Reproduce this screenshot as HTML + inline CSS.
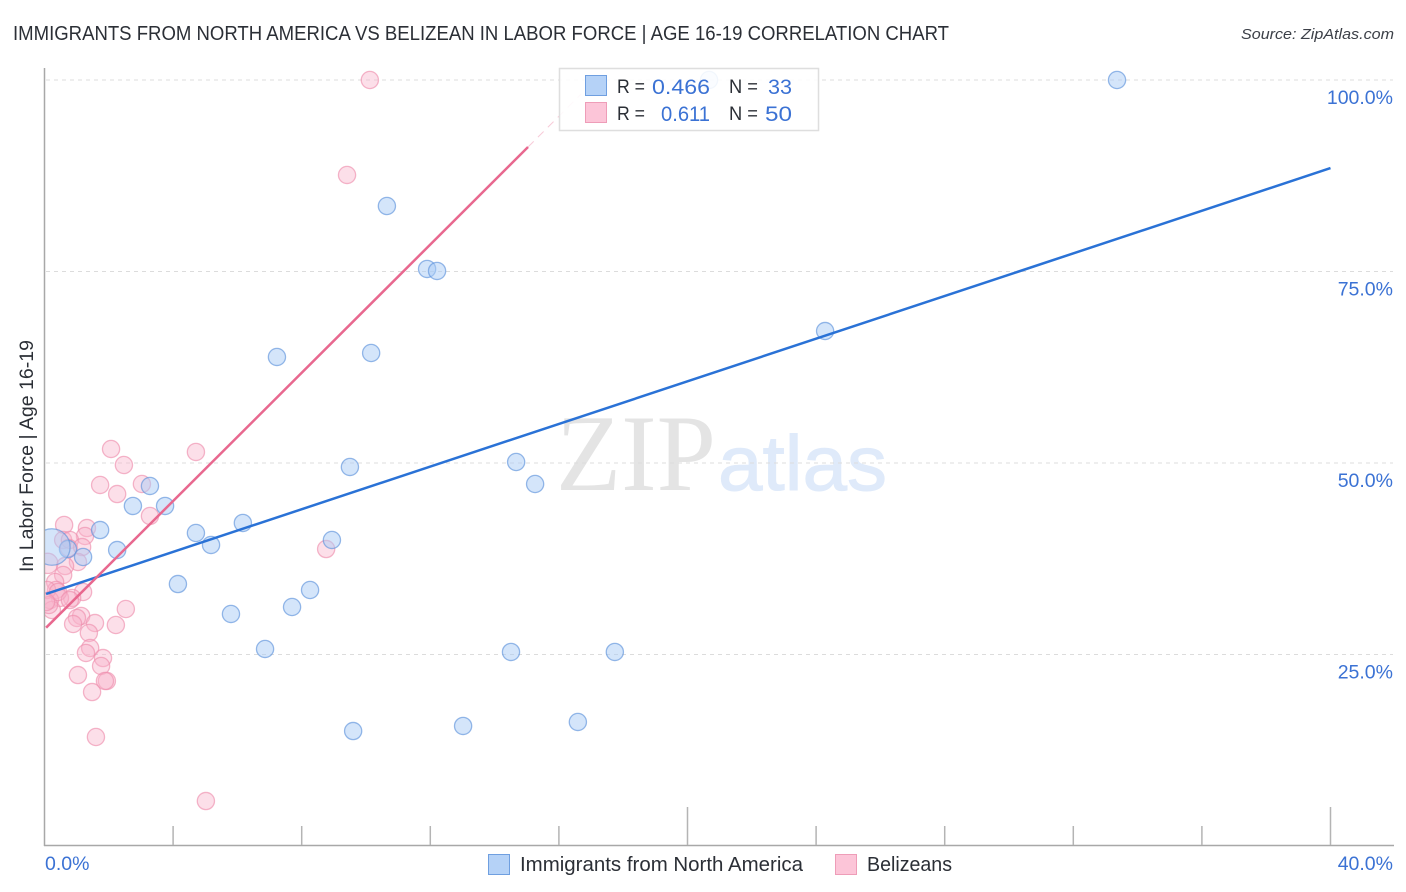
<!DOCTYPE html>
<html lang="en">
<head>
<meta charset="utf-8">
<title>Immigrants from North America vs Belizean in Labor Force | Age 16-19 Correlation Chart</title>
<style>
html,body{margin:0;padding:0;background:#fff;width:1406px;height:892px;overflow:hidden}
svg{display:block}
text{font-family:"Liberation Sans",sans-serif}
</style>
</head>
<body>
<svg id="chart" xmlns="http://www.w3.org/2000/svg" width="1406" height="892" viewBox="0 0 1406 892">
  <defs><clipPath id="plot-clip"><rect x="45" y="60" width="1349" height="785"/></clipPath></defs>
  <text x="13" y="40" font-size="20" fill="#2b2f36" textLength="936" lengthAdjust="spacingAndGlyphs">IMMIGRANTS FROM NORTH AMERICA VS BELIZEAN IN LABOR FORCE | AGE 16-19 CORRELATION CHART</text>
  <text x="1241" y="39" font-size="15" font-style="italic" fill="#3c4048" textLength="153" lengthAdjust="spacingAndGlyphs">Source: ZipAtlas.com</text>
  <g>
    <text x="556" y="490" font-size="109" fill="#e4e4e4" textLength="160" lengthAdjust="spacingAndGlyphs" style="font-family:'Liberation Serif',serif">ZIP</text>
    <text x="718" y="490" font-size="78" fill="#dfeafa" stroke="#dfeafa" stroke-width="1" textLength="169" lengthAdjust="spacingAndGlyphs">atlas</text>
  </g>
  <g id="grid"></g>
  <g id="axes"></g>
  <g id="points" clip-path="url(#plot-clip)"></g>
  <g id="trends"></g>
  <text transform="translate(33,572) rotate(-90)" font-size="19" fill="#2b2f36" textLength="232" lengthAdjust="spacingAndGlyphs">In Labor Force | Age 16-19</text>

  <g>
    <rect x="559.5" y="68.5" width="259" height="62" fill="#fff" fill-opacity="0.88" stroke="#dedede" stroke-width="1.5"/>
    <rect x="585.5" y="75.5" width="21" height="20" fill="#b5d2f7" stroke="#6f9fe0"/>
    <rect x="585.5" y="102.5" width="21" height="20" fill="#fcc5d8" stroke="#ee9db8"/>
    <text x="617" y="93" font-size="19" fill="#2b2f36" textLength="28" lengthAdjust="spacingAndGlyphs">R =</text>
    <text x="652" y="94" font-size="21" fill="#3b72d4" textLength="58" lengthAdjust="spacingAndGlyphs">0.466</text>
    <text x="729" y="93" font-size="19" fill="#2b2f36" textLength="29" lengthAdjust="spacingAndGlyphs">N =</text>
    <text x="768" y="94" font-size="21" fill="#3b72d4" textLength="24" lengthAdjust="spacingAndGlyphs">33</text>
    <text x="617" y="120" font-size="19" fill="#2b2f36" textLength="28" lengthAdjust="spacingAndGlyphs">R =</text>
    <text x="661" y="121" font-size="21" fill="#3b72d4" textLength="49" lengthAdjust="spacingAndGlyphs">0.611</text>
    <text x="729" y="120" font-size="19" fill="#2b2f36" textLength="29" lengthAdjust="spacingAndGlyphs">N =</text>
    <text x="765" y="121" font-size="21" fill="#3b72d4" textLength="27" lengthAdjust="spacingAndGlyphs">50</text>
  </g>

  <g>
    <rect x="488.5" y="854.5" width="21" height="20" fill="#b5d2f7" stroke="#6f9fe0"/>
    <text x="520" y="871" font-size="20" fill="#2b2f36" textLength="283" lengthAdjust="spacingAndGlyphs">Immigrants from North America</text>
    <rect x="835.5" y="854.5" width="21" height="20" fill="#fcc5d8" stroke="#ee9db8"/>
    <text x="867" y="871" font-size="20" fill="#2b2f36" textLength="85" lengthAdjust="spacingAndGlyphs">Belizeans</text>
  </g>
</svg>
<script>
const blueX = [33.36,20.67,10.65,11.90,12.21,7.23,10.16,24.28,9.50,14.67,15.26,3.28,3.75,2.75,1.73,4.71,6.17,5.18,2.26,0.73,1.20,8.94,4.15,5.80,7.70,8.26,6.86,14.51,17.74,9.60,13.02,16.59,0.23];
const blueY = [100,100,83.55,75.33,75.07,63.84,64.36,67.23,49.48,50.13,47.26,47.0,44.39,44.39,41.25,40.86,42.17,39.30,38.64,38.77,37.73,39.95,34.20,30.29,31.2,33.42,25.72,25.33,25.33,15.01,15.67,16.19,39.03];
const blueWeight = [1,1,1,1,1,1,1,1,1,1,1,1,1,1,1,1,1,1,1,1,1,1,1,1,1,1,1,1,1,1,1,1,4.5];
const pinkX = [10.12,9.41,2.07,4.71,2.47,1.73,3.03,2.26,3.28,8.76,0.61,1.32,1.26,0.58,0.79,0.76,1.17,1.04,0.64,0.58,0.1,0.33,0.36,1.20,0.86,0.48,0.17,0.08,0.23,0.14,2.53,2.22,1.14,1.01,0.89,1.57,1.38,1.42,1.29,1.82,1.76,1.04,1.94,1.88,1.48,1.60,5.02,0.42,0.05,0.79];
const pinkY = [100,87.6,51.83,51.44,49.74,47.13,47.26,45.95,43.08,38.77,41.91,41.51,40.47,39.95,39.95,38.9,39.03,37.08,36.55,35.38,36.9,34.47,33.42,33.16,32.38,32.38,32.11,33.42,30.81,31.46,30.94,28.85,30.03,29.77,28.98,29.11,27.81,25.85,25.2,24.54,23.5,22.32,21.54,21.54,20.1,14.23,5.87,33.16,31.85,32.11];
const pinkWeight = [1,1,1,1,1,1,1,1,1,1,1,1,1,1,1,1,1,1,1,1,1.4,1,1,1,1,1,1,1,1,1,1,1,1,1,1,1,1,1,1,1,1,1,1,1,1,1,1,1,1,1];
const blueTrendX = [0.05, 40];
const blueTrendY = [32.9, 88.5];
const pinkTrendX = [0.05, 15.04];
const pinkTrendY = [28.5, 91.25];
const pinkTrendExtX = [15.04, 16.7];
const pinkTrendExtY = [91.25, 98.2];
const yTickValues = [25, 50, 75, 100];
const yTickLabels = ["25.0%", "50.0%", "75.0%", "100.0%"];
const xTickValues = [4, 8, 12, 16, 20, 24, 28, 32, 36, 40];
const xMajorTicks = [20, 40];
const xEndLabels = ["0.0%", "40.0%"];

const NS = "http://www.w3.org/2000/svg";
function xScale(v) { return 44.5 + v * 32.15; }
function yScale(v) { return 80 + (100 - v) * 7.66; }
function rScale(w) { return 8.6 * Math.sqrt(w); }
function make(tag, attrs, parent) {
  const el = document.createElementNS(NS, tag);
  for (const k in attrs) el.setAttribute(k, attrs[k]);
  parent.appendChild(el);
  return el;
}
const grid = document.getElementById("grid");
const axes = document.getElementById("axes");
const pts = document.getElementById("points");
const trends = document.getElementById("trends");

yTickValues.forEach(function (v, i) {
  const line = make("line", {x1: 46, x2: 1393, y1: yScale(v), y2: yScale(v), stroke: "#dcdcdc", "stroke-width": 1, "stroke-dasharray": "4 4"}, grid);
  
  
  const label = make("text", {x: 1393, y: yScale(v) + 24, "font-size": 19.5, fill: "#3b72d4", "text-anchor": "end"}, axes);
  label.textContent = yTickLabels[i];
  
  
});

const yAxis = make("line", {x1: 44.5, x2: 44.5, y1: 68, y2: 846, stroke: "#a8a8a8", "stroke-width": 1.5}, axes);


const xAxis = make("line", {x1: 44, x2: 1394, y1: 845.5, y2: 845.5, stroke: "#a8a8a8", "stroke-width": 1.5}, axes);



xTickValues.forEach(function (v) {
  const top = xMajorTicks.indexOf(v) >= 0 ? 807 : 826;
  const tick = make("line", {x1: xScale(v), x2: xScale(v), y1: top, y2: 845, stroke: "#b4b4b4", "stroke-width": 1.5}, axes);
  
  
});

const xLabelLeft = make("text", {x: 45, y: 870, "font-size": 19.5, fill: "#3b72d4"}, axes);
xLabelLeft.textContent = xEndLabels[0];


const xLabelRight = make("text", {x: 1393, y: 870, "font-size": 19.5, fill: "#3b72d4", "text-anchor": "end"}, axes);
xLabelRight.textContent = xEndLabels[1];



pinkX.forEach(function (v, i) {
  const c = make("circle", {cx: xScale(v), cy: yScale(pinkY[i]), r: rScale(pinkWeight[i]), fill: "#f9b3ca", "fill-opacity": 0.42, stroke: "#ee8fae", "stroke-opacity": 0.65, "stroke-width": 1.3}, pts);
  
  
});
blueX.forEach(function (v, i) {
  const c = make("circle", {cx: xScale(v), cy: yScale(blueY[i]), r: rScale(blueWeight[i]), fill: "#a9ccf6", "fill-opacity": 0.5, stroke: "#5f93dc", "stroke-opacity": 0.65, "stroke-width": 1.3}, pts);
  
  
});

const blueTrend = make("line", {x1: xScale(blueTrendX[0]), y1: yScale(blueTrendY[0]), x2: xScale(blueTrendX[1]), y2: yScale(blueTrendY[1]), stroke: "#2a72d6", "stroke-width": 2.5}, trends);


const pinkTrend = make("line", {x1: xScale(pinkTrendX[0]), y1: yScale(pinkTrendY[0]), x2: xScale(pinkTrendX[1]), y2: yScale(pinkTrendY[1]), stroke: "#e8688f", "stroke-width": 2.5}, trends);


const pinkExt = make("line", {x1: xScale(pinkTrendExtX[0]), y1: yScale(pinkTrendExtY[0]), x2: xScale(pinkTrendExtX[1]), y2: yScale(pinkTrendExtY[1]), stroke: "#f3b3c7", "stroke-width": 1, "stroke-opacity": 0.7, "stroke-dasharray": "8 6"}, trends);


</script>
</body>
</html>
